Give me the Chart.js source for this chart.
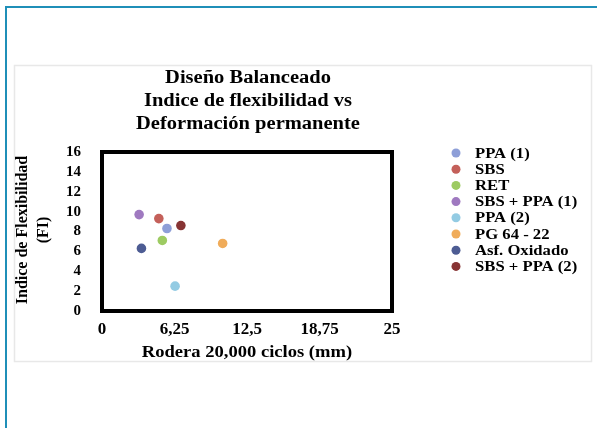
<!DOCTYPE html>
<html>
<head>
<meta charset="utf-8">
<script src="https://cdn.jsdelivr.net/npm/chart.js@4.4.1/dist/chart.umd.min.js"></script>
<style>
html,body{margin:0;padding:0;background:#fff;}
#wrap{position:relative;width:597px;height:428px;}
</style>
</head>
<body>
<div id="wrap"><canvas id="c" width="597" height="428"></canvas></div>
<script>
const seriesNames = ['PPA (1)','SBS','RET','SBS + PPA (1)','PPA (2)','PG 64 - 22','Asf. Oxidado','SBS + PPA (2)'];
const rutDepth = [5.6, 4.9, 5.2, 3.2, 6.3, 10.4, 3.4, 6.8];
const flexIndex = [8.3, 9.3, 7.1, 9.7, 2.5, 6.8, 6.3, 8.6];
const seriesColors = ['#8e9fd8','#c4605a','#9dcb62','#9f79c0','#93cbe3','#f0ac5a','#4d5c93','#873434'];
const xTickLabels = ['0','6,25','12,5','18,75','25'];
const yTickLabels = ['0','2','4','6','8','10','12','14','16'];
const titleLines = ['Diseño Balanceado','Indice de flexibilidad vs','Deformación permanente'];
const xTitle = 'Rodera 20,000 ciclos (mm)';
const yTitleLines = ['Indice de Flexibilidad','(FI)'];

const SERIF = '"Liberation Serif", "Times New Roman", serif';

const datasets = seriesNames.map((n,i)=>({
  label:n,
  data:[{x:rutDepth[i], y:flexIndex[i]}],
  backgroundColor:seriesColors[i],
  borderColor:seriesColors[i],
  pointRadius:4.8,
  pointHoverRadius:4.8,
  borderWidth:0
}));

function stretchText(ctx, text, x, y, sx, align){
  ctx.save();
  ctx.translate(x,y);
  ctx.scale(sx,1);
  ctx.textAlign=align;
  ctx.fillText(text,0,0);
  ctx.restore();
}

const decor = {
  id:'decor',
  beforeDraw(chart){
    const ctx = chart.ctx;
    ctx.save();
    ctx.fillStyle='#fff';
    ctx.fillRect(0,0,chart.width,chart.height);
    ctx.strokeStyle='#1f8fb8';
    ctx.lineWidth=2;
    ctx.beginPath();
    ctx.moveTo(6,428);ctx.lineTo(6,7);ctx.lineTo(597,7);
    ctx.stroke();
    ctx.strokeStyle='#e8e8e8';
    ctx.lineWidth=1.5;
    ctx.strokeRect(14.5,65.5,577,296);
    ctx.restore();
  },
  beforeDatasetsDraw(chart){
    const ctx = chart.ctx, a = chart.chartArea;
    ctx.save();
    ctx.strokeStyle='#000';
    ctx.lineWidth=4;
    ctx.strokeRect(a.left,a.top,a.right-a.left,a.bottom-a.top);
    ctx.restore();
  },
  afterDraw(chart){
    const ctx = chart.ctx, a = chart.chartArea;
    ctx.save();
    ctx.fillStyle='#000';
    ctx.textBaseline='middle';
    ctx.font='bold 18px '+SERIF;
    titleLines.forEach((t,i)=>stretchText(ctx,t,248,78+i*23,1.14,'center'));
    ctx.font='bold 16px '+SERIF;
    stretchText(ctx,xTitle,247,353,1.16,'center');
    ctx.save();
    ctx.translate(23,230);
    ctx.rotate(-Math.PI/2);
    ctx.textAlign='center';
    ctx.font='bold 16px '+SERIF;
    ctx.fillText(yTitleLines[0],0,0);
    ctx.fillText(yTitleLines[1],0,21);
    ctx.restore();
    ctx.font='bold 14px '+SERIF;
    chart.data.datasets.forEach((d,i)=>{
      const y = 153+i*16.2;
      ctx.fillStyle=d.backgroundColor;
      ctx.beginPath();ctx.arc(456,y,4.5,0,Math.PI*2);ctx.fill();
      ctx.fillStyle='#000';
      stretchText(ctx,d.label,475,y+1,1.19,'left');
    });
    ctx.restore();
  }
};

new Chart(document.getElementById('c'),{
  type:'scatter',
  data:{datasets},
  options:{
    responsive:false,
    animation:false,
    devicePixelRatio:1,
    layout:{padding:{left:0,right:205,top:152,bottom:0}},
    plugins:{legend:{display:false},title:{display:false},tooltip:{enabled:false}},
    scales:{
      x:{
        type:'linear',min:0,max:25,
        afterBuildTicks(s){s.ticks=xTickLabels.map((_,i)=>({value:i*6.25}));},
        afterFit(s){s.height=117;},
        grid:{display:false,drawTicks:false},
        border:{display:false},
        ticks:{autoSkip:false,maxRotation:0,padding:8,color:'#000',font:{family:SERIF,weight:'bold',size:17},
          callback:(v,i)=>xTickLabels[i]}
      },
      y:{
        type:'linear',min:0,max:16,
        afterBuildTicks(s){s.ticks=yTickLabels.map((_,i)=>({value:i*2}));},
        afterFit(s){s.width=102;},
        grid:{display:false,drawTicks:false},
        border:{display:false},
        ticks:{autoSkip:false,padding:21,color:'#000',font:{family:SERIF,weight:'bold',size:15},
          callback:(v,i)=>yTickLabels[i]}
      }
    }
  },
  plugins:[decor]
});
</script>
</body>
</html>
